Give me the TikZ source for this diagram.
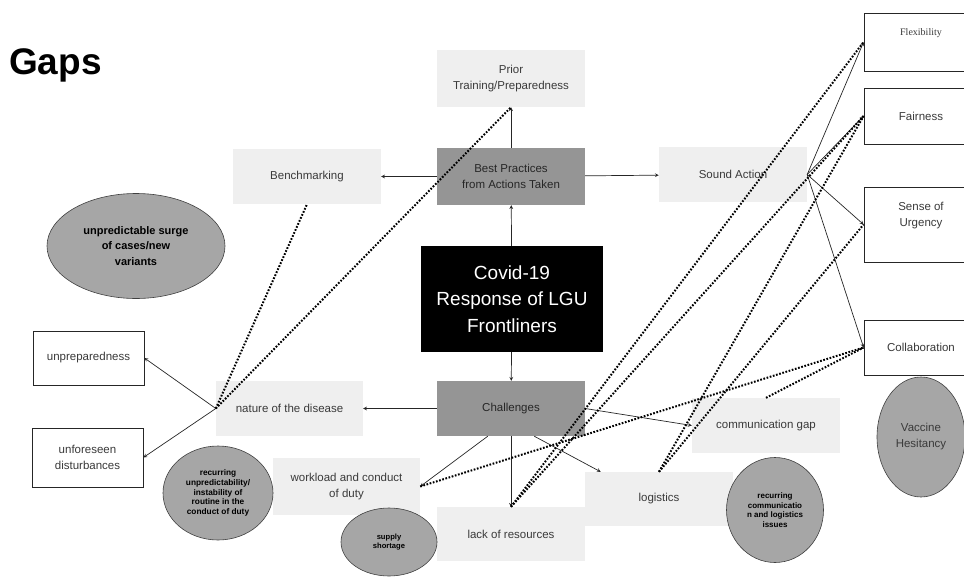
\documentclass[tikz,border=0pt]{standalone}
\usepackage{xcolor}
\usepackage{fontspec}
\setmainfont{Liberation Sans}
\newfontfamily\flexfont{Liberation Serif}
\usepackage{tikz}
\usetikzlibrary{shapes.geometric}
\definecolor{boxgray}{HTML}{EFEFEF}
\definecolor{midgray}{HTML}{959595}
\definecolor{blobgray}{HTML}{A6A6A6}
\definecolor{textgray}{HTML}{3A3A3A}
\tikzset{>=stealth,
  softbox/.style={fill=boxgray,text=textgray,minimum width=148pt,minimum height=55pt,
    inner sep=2pt,align=center,font={\fontsize{11.5}{16}\selectfont}},
  darkbox/.style={softbox,fill=midgray,text=black!85},
  linebox/.style={draw=black!85,line width=0.8pt,fill=white,minimum width=114pt,
    inner sep=2pt,align=center,text=textgray,font={\fontsize{11.5}{16}\selectfont}},
  gapblob/.style={ellipse,draw=black!75,line width=0.6pt,fill=blobgray,inner sep=0pt,
    align=center,font={\bfseries\fontsize{8}{9.7}\selectfont}},
  flow/.style={->,line width=0.7pt,black!85},
  gaplink/.style={line width=2pt,dash pattern=on 1.7pt off 1.6pt}
}

\begin{document}
\begin{tikzpicture}[x=1pt,y=-1pt]
    \useasboundingbox (0,0) rectangle (964,576);
    \node[anchor=base west,inner sep=0pt,font={\bfseries\fontsize{37}{40}\selectfont}] (gaps) at (9,74) {Gaps};
    % centre and best practices
    \node[fill=black,text=white,minimum width=182pt,minimum height=106pt,align=center,
      font={\fontsize{19}{26.5}\selectfont}] (covid) at (512,299) {Covid-19\\Response of LGU\\Frontliners};
    \node[darkbox,minimum height=57pt] (best) at (511,176.5) {Best Practices\\from Actions Taken};
    \node[softbox,minimum height=57pt] (prior) at (511,78.5) {Prior\\Training/Preparedness};
    \node[softbox] (bench) at (307,176.5) {Benchmarking};
    \node[softbox] (sound) at (733,174.5) {Sound Action};
    % challenges
    \node[darkbox] (chall) at (511,408.5) {Challenges};
    \node[softbox,minimum width=147pt] (nature) at (289.5,408.5) {nature of the disease};
    \node[softbox,minimum width=147pt,minimum height=57pt] (workload) at (346.5,486.5) {workload and conduct\\of duty};
    \node[softbox,minimum height=54pt] (lack) at (511,534) {lack of resources};
    \node[softbox,minimum height=54pt] (logist) at (659,499) {logistics};
    \node[softbox] (commgap) at (766,425.5) {communication gap};
    \node[linebox,minimum width=111pt,minimum height=54pt] (unprep) at (88.5,358) {unpreparedness};
    \node[linebox,minimum width=111pt,minimum height=59pt] (unfore) at (87.5,457.5) {unforeseen\\disturbances};
    % values on the right
    \node[linebox,minimum height=58pt,text depth=20pt,font={\flexfont\fontsize{10}{12}\selectfont}] (flex) at (921,42) {Flexibility};
    \node[linebox,minimum height=56pt] (fair) at (921,116) {Fairness};
    \node[linebox,minimum height=75pt] (urgency) at (921,224.5) {};
    \node[align=center,text=textgray,font={\fontsize{11.5}{15.5}\selectfont}] (urgtext) at (921,215.5) {Sense of\\Urgency};
    \node[linebox,minimum height=55pt] (collab) at (921,347.5) {Collaboration};
    % gaps
    \node[gapblob,minimum width=178pt,minimum height=105pt,font={\bfseries\fontsize{11}{15.5}\selectfont}] (surge) at (136,246) {unpredictable surge\\of cases/new\\variants};
    \node[gapblob,minimum width=110pt,minimum height=94pt,font={\bfseries\fontsize{8.3}{9.8}\selectfont}] (routine) at (218,493) {recurring\\unpredictability/\\instability of\\routine in the\\conduct of duty};
    \node[gapblob,minimum width=96pt,minimum height=68pt,font={\bfseries\fontsize{7.6}{9.4}\selectfont}] (supply) at (389,542) {supply\\shortage};
    \node[gapblob,minimum width=97pt,minimum height=105pt] (recur) at (775,510) {recurring\\communicatio\\n and logistics\\issues};
    \node[gapblob,minimum width=88pt,minimum height=120pt,font={\fontsize{11.5}{16}\selectfont},text=textgray] (vaccine) at (921,437) {Vaccine\\Hesitancy};
    % arrows
    \draw[flow] (covid) -- (best);
    \draw[flow] (best) -- (prior);
    \draw[flow] (best) -- (bench);
    \draw[flow] (best) -- (sound);
    \draw[flow] (covid) -- (chall);
    \draw[flow] (chall) -- (nature);
    \draw[flow] (chall) -- (lack);
    \draw[flow] (chall.230) -- (workload.east);
    \draw[flow] (chall.310) -- (logist.155);
    \draw[flow] (chall.east) -- (commgap.west);
    \draw[flow] (nature.west) -- (unprep.east);
    \draw[flow] (nature.west) -- (unfore.east);
    \draw[flow] (sound.east) -- (flex.west);
    \draw[flow] (sound.east) -- (fair.west);
    \draw[flow] (sound.east) -- (urgency.west);
    \draw[flow] (sound.east) -- (collab.west);
    % dotted links
    \draw[gaplink] (nature.west) -- (bench.south);
    \draw[gaplink] (nature.west) -- (prior.south);
    \draw[gaplink] (lack.north) -- (flex.west);
    \draw[gaplink] (lack.north) -- (fair.west);
    \draw[gaplink] (logist.north) -- (fair.west);
    \draw[gaplink] (logist.north) -- (urgency.west);
    \draw[gaplink] (workload.east) -- (collab.west);
    \draw[gaplink] (commgap.north) -- (collab.west);
\end{tikzpicture}
\end{document}
